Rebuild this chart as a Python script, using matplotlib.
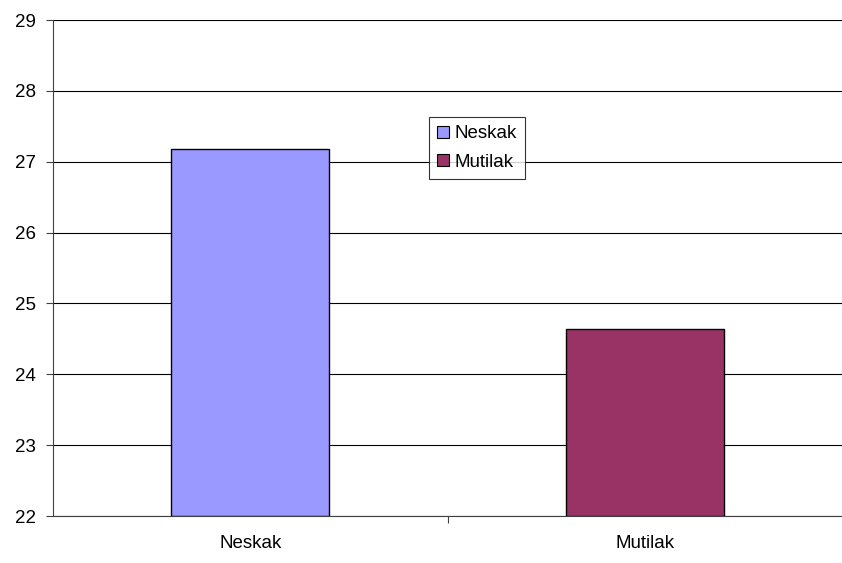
import matplotlib
matplotlib.use("Agg")
import matplotlib.pyplot as plt
from matplotlib.patches import Patch

plt.rcParams['font.family'] = ['Liberation Sans', 'DejaVu Sans']

categories = ["Neskak", "Mutilak"]
values = [27.18, 24.64]
colors = ["#9999ff", "#993366"]

fig = plt.figure(figsize=(8.42, 5.63), dpi=100)
ax = fig.add_axes([53 / 842, 1 - 516 / 563, (842 - 53) / 842, (516 - 20) / 563])

x = range(len(categories))
ax.bar(x, [v - 22 for v in values], bottom=22, width=0.4, color=colors,
       edgecolor="black", linewidth=1.0, zorder=3)

ax.set_xlim(-0.5, 1.5)
ax.set_ylim(22, 29)
ax.set_yticks(range(22, 30))
ax.yaxis.grid(True, color="black", linewidth=0.8, zorder=0)
ax.set_axisbelow(True)

ax.set_xticks([0.5])
ax.set_xticklabels([])
ax.set_xticks(list(x), minor=True)
ax.set_xticklabels(categories, minor=True)
ax.tick_params(axis="x", which="minor", length=0, pad=14, labelsize=13.5)
ax.tick_params(axis="x", which="major", length=5, direction="out", color="#404040")
ax.tick_params(axis="y", length=5, direction="out", color="#404040", labelsize=13.5, pad=7)

for s in ["top", "right"]:
    ax.spines[s].set_visible(False)
ax.spines["left"].set_color("#404040")
ax.spines["bottom"].set_color("#404040")

handles = [Patch(facecolor=c, edgecolor="black", linewidth=0.8) for c in colors]
leg = ax.legend(handles, categories, loc="upper left", bbox_to_anchor=((429 - 53) / 789, 1 - (117 - 20) / 496),
                frameon=True, fancybox=False, edgecolor="black", fontsize=13.5,
                handlelength=0.6, handleheight=0.6, handletextpad=0.3, borderpad=0.45,
                labelspacing=0.6, borderaxespad=0)
leg.get_frame().set_linewidth(0.8)

fig.savefig("out.png", dpi=100)
